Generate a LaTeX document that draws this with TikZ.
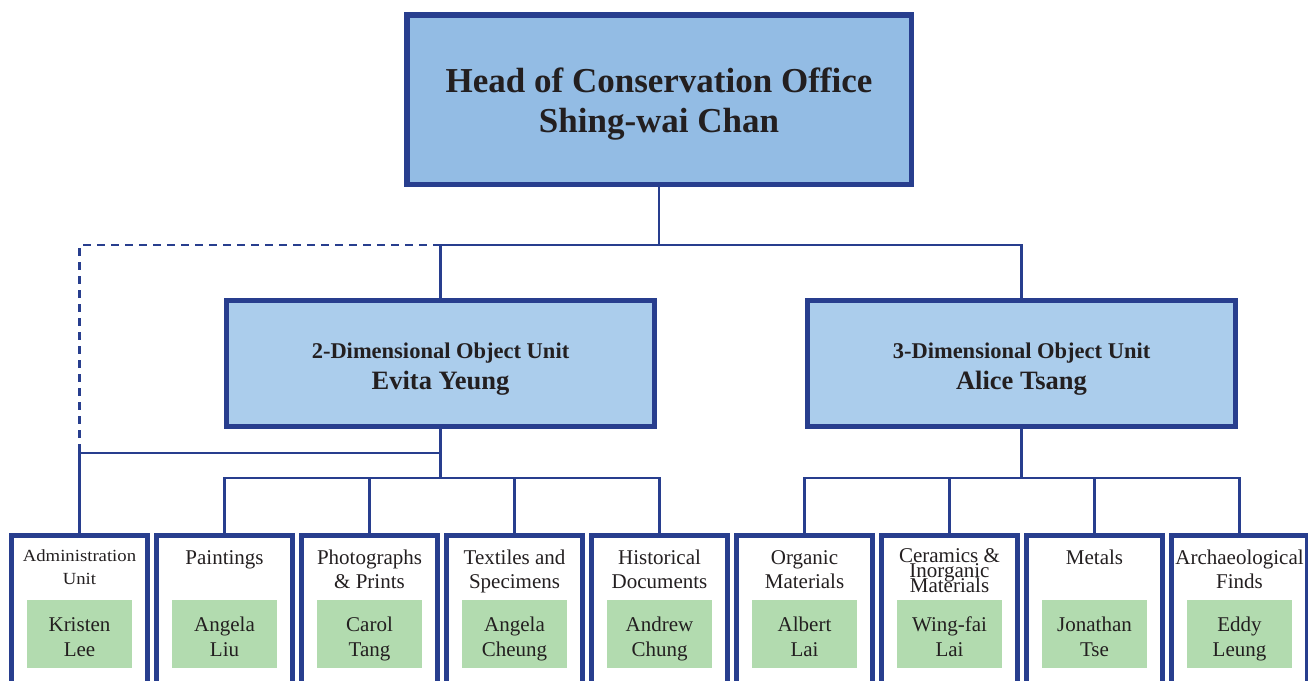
\documentclass[tikz,border=0pt]{standalone}
\usepackage{fontspec}
\setmainfont{Liberation Serif}
\definecolor{bord}{HTML}{283E8E}
\definecolor{topfill}{HTML}{93BCE4}
\definecolor{midfill}{HTML}{ABCDEC}
\definecolor{grn}{HTML}{B2DBAF}
\definecolor{txt}{HTML}{231F20}
\newcommand\tightlines{\lineskiplimit-50pt\relax}
\begin{document}
\begin{tikzpicture}[x=1pt,y=-1pt,
  topbox/.style={draw=bord, fill=topfill, line width=5.5pt, minimum width=504.5pt, minimum height=169.5pt,
    inner sep=0pt, outer sep=0pt},
  midbox/.style={draw=bord, fill=midfill, line width=5pt, minimum width=428pt, minimum height=126pt,
    inner sep=0pt, outer sep=0pt},
  unitbox/.style={draw=bord, fill=white, line width=5pt, minimum width=136pt, minimum height=200pt,
    inner sep=0pt, outer sep=0pt, anchor=north},
  namebox/.style={fill=grn, minimum width=105pt, minimum height=68pt, inner sep=0pt, outer sep=0pt},
  txtnode/.style={inner sep=0pt, outer sep=0pt, align=center, text=txt, anchor=base},
  toptxt/.style={txtnode, font=\bfseries\fontsize{35}{40}\selectfont},
  midtxt/.style={txtnode, font=\bfseries\fontsize{26.5}{31}\selectfont},
  ttl/.style={txtnode, font=\fontsize{21}{24}\selectfont},
  nametxt/.style={txtnode, font=\fontsize{21}{25}\selectfont},
  conn/.style={draw=bord, line width=2.5pt},
  dconn/.style={draw=bord, line width=2.5pt, dash pattern=on 8pt off 6pt}
]
\useasboundingbox (0,0) rectangle (1308,680);
\clip (0,0) rectangle (1308,680);

% top
\node[topbox] (head) at (659,99.5) {};
\node[toptxt] (headt) at (659,132) {Head of Conservation Office\\Shing-wai Chan};

% middle
\node[midbox] (u2) at (440.5,363.5) {};
\node[midtxt] (u2t) at (440.5,389) {{\fontsize{22.5}{27}\selectfont 2-Dimensional Object Unit}\\Evita Yeung};
\node[midbox] (u3) at (1021.5,363.5) {};
\node[midtxt] (u3t) at (1021.5,389) {{\fontsize{22.5}{27}\selectfont 3-Dimensional Object Unit}\\Alice Tsang};

% bottom boxes
\node[unitbox] (b0) at (79.5,535.5) {};
\node[unitbox] (b1) at (224.5,535.5) {};
\node[unitbox] (b2) at (369.5,535.5) {};
\node[unitbox] (b3) at (514.5,535.5) {};
\node[unitbox] (b4) at (659.5,535.5) {};
\node[unitbox] (b5) at (804.5,535.5) {};
\node[unitbox] (b6) at (949.5,535.5) {};
\node[unitbox] (b7) at (1094.5,535.5) {};
\node[unitbox] (b8) at (1239.5,535.5) {};

% titles
\node[ttl, font={\fontsize{17}{22.5}\selectfont}] (t0) at (79.5,584) {\scalebox{1.1}[1]{Administration}\\\scalebox{1.1}[1]{Unit}};
\node[ttl] (t1) at (224.5,564) {Paintings};
\node[ttl] (t2) at (369.5,588) {Photographs\\\& Prints};
\node[ttl] (t3) at (514.5,588) {Textiles and\\Specimens};
\node[ttl] (t4) at (659.5,588) {Historical\\Documents};
\node[ttl] (t5) at (804.5,588) {Organic\\Materials};
\node[ttl, font={\fontsize{21}{15}\selectfont\tightlines}] (t6) at (949.5,592.5) {Ceramics \&\\Inorganic\\Materials};
\node[ttl] (t7) at (1094.5,564) {Metals};
\node[ttl] (t8) at (1239.5,588) {Archaeological\\Finds};

% names
\node[namebox] (n0) at (79.5,634) {};
\node[namebox] (n1) at (224.5,634) {};
\node[namebox] (n2) at (369.5,634) {};
\node[namebox] (n3) at (514.5,634) {};
\node[namebox] (n4) at (659.5,634) {};
\node[namebox] (n5) at (804.5,634) {};
\node[namebox] (n6) at (949.5,634) {};
\node[namebox] (n7) at (1094.5,634) {};
\node[namebox] (n8) at (1239.5,634) {};
\node[nametxt] (m0) at (79.5,656) {Kristen\\Lee};
\node[nametxt] (m1) at (224.5,656) {Angela\\Liu};
\node[nametxt] (m2) at (369.5,656) {Carol\\Tang};
\node[nametxt] (m3) at (514.5,656) {Angela\\Cheung};
\node[nametxt] (m4) at (659.5,656) {Andrew\\Chung};
\node[nametxt] (m5) at (804.5,656) {Albert\\Lai};
\node[nametxt] (m6) at (949.5,656) {Wing-fai\\Lai};
\node[nametxt] (m7) at (1094.5,656) {Jonathan\\Tse};
\node[nametxt] (m8) at (1239.5,656) {Eddy\\Leung};

% connector coordinates
\coordinate (bus) at (659,245);
\coordinate (admbus) at (79.5,453);
\coordinate (barL) at (440.5,478);
\coordinate (barR) at (1021.5,478);

% connectors
\draw[conn] (head.south) -- (bus);
\draw[conn] (u2.north) -- (u2.north |- bus) -- (u3.north |- bus) -- (u3.north);
\draw[dconn] (u2.north |- bus) -- (b0.north |- bus) -- (admbus);
\draw[conn] (u2.south) -- (barL);
\draw[conn] (u2.south |- admbus) -- (admbus) -- (b0.north);
\draw[conn] (b1.north) -- (b1.north |- barL) -- (b4.north |- barL) -- (b4.north);
\draw[conn] (b2.north) -- (b2.north |- barL);
\draw[conn] (b3.north) -- (b3.north |- barL);
\draw[conn] (u3.south) -- (barR);
\draw[conn] (b5.north) -- (b5.north |- barR) -- (b8.north |- barR) -- (b8.north);
\draw[conn] (b6.north) -- (b6.north |- barR);
\draw[conn] (b7.north) -- (b7.north |- barR);
\end{tikzpicture}
\end{document}
